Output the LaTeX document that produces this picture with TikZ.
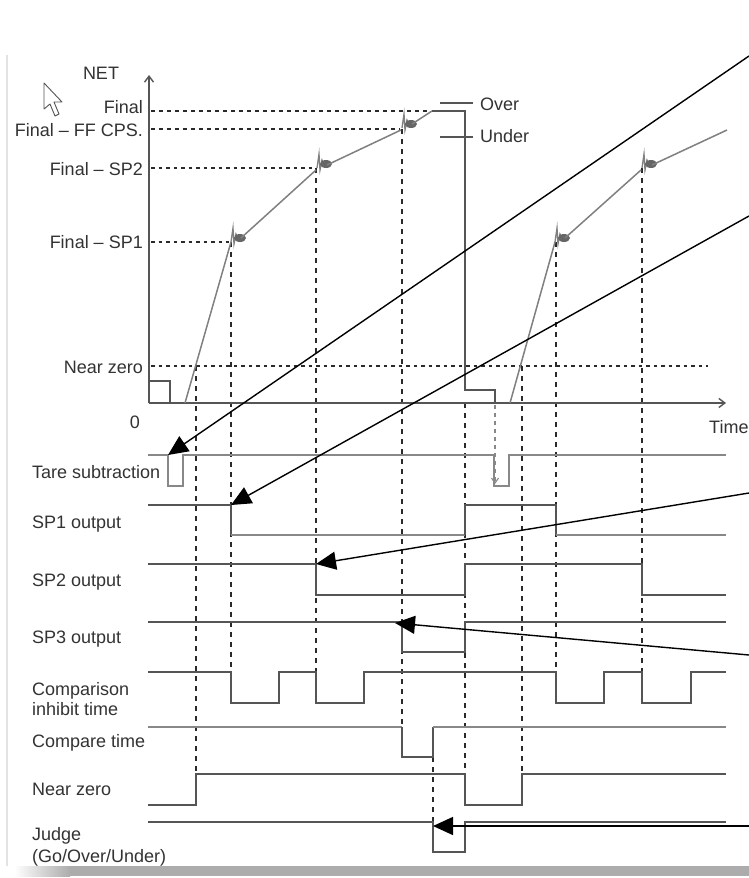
\documentclass[tikz,border=0pt]{standalone}
\usepackage{fontspec}
\setmainfont{Liberation Sans}
\usetikzlibrary{arrows.meta}
\definecolor{txtgray}{HTML}{333333}
\definecolor{sigc}{HTML}{555555}
\definecolor{sigl}{HTML}{888888}
\definecolor{curvec}{HTML}{808080}
\definecolor{dashc}{HTML}{2A2A2A}
\begin{document}
\begin{tikzpicture}[x=1pt,y=-1pt,
  lbl/.style={font=\fontsize{18}{21}\selectfont, text=txtgray, inner sep=0pt},
  sig/.style={draw=sigc, line width=1.5pt},
  sigthick/.style={draw=sigl, line width=2.3pt},
  curve/.style={draw=curvec, line width=1.5pt},
  lev/.style={draw=dashc, line width=1.1pt, dash pattern=on 4pt off 4pt},
  levb/.style={draw=dashc, line width=1.8pt, dash pattern=on 3.5pt off 4pt},
  vd/.style={draw=dashc, line width=1.1pt, dash pattern=on 5pt off 5pt},
  axis/.style={draw=sigc, line width=1.4pt, -{Straight Barb[length=6pt,width=9pt]}},
  callout/.style={draw=black, line width=1.4pt, -{Triangle[length=20pt,width=18pt]}},
  splash/.pic={\draw[curvec, line width=1.3pt] (0,0) -- (2,-14) -- (3,2) -- (5,-8) -- (8,-2);
               \fill[sigc!90] (9,-4) ellipse [x radius=6, y radius=4];}
]
% canvas
\fill[white] (0,0) rectangle (749,878);
\useasboundingbox (0,0) rectangle (749,878);
% frame
\draw[gray!22, line width=1.5pt] (7,55) -- (7,866);
\shade[left color=white, right color=gray!65] (14,866) rectangle (70,876);
\fill[gray!65] (70,866) rectangle (749,876);

% cursor
\draw[sigc, fill=white, line width=0.9pt, line join=round]
  (44,83) -- (44,109) -- (50,104) -- (55,116) -- (59,114) -- (54,102) -- (62,102) -- cycle;

% level lines
\draw[lev] (151,111) -- (430,111);
\draw[lev] (151,129) -- (400,129);
\draw[levb] (151,168) -- (316,168);
\draw[levb] (151,242) -- (229,242);
\draw[levb] (151,366) -- (708,366);

% vertical dashed guides
\draw[vd] (196,366) -- (196,774);
\draw[vd] (231,242) -- (231,672);
\draw[vd] (316,168) -- (316,672);
\draw[vd] (402,129) -- (402,727);
\draw[vd] (465,403) -- (465,774);
\draw[vd] (433,757) -- (433,822);
\draw[vd] (522,366) -- (522,774);
\draw[vd] (556,242) -- (556,672);
\draw[vd] (642,168) -- (642,672);
\draw[vd, dash pattern=on 4pt off 4pt, draw=sigl, -{Straight Barb[length=5pt,width=7pt]}] (495,405) -- (495,484);

% axes
\coordinate (origin) at (149,403);
\coordinate (ytop) at (149,75);
\coordinate (xend) at (726,403);
\draw[axis] (origin) -- (ytop);
\draw[axis] (origin) -- (xend);

% tare boxes & weighing curve
\draw[sig] (149,381) -- (170,381) -- (170,403);
\draw[curve] (185,403) -- (231,242);
\pic at (231,242) {splash};
\draw[curve] (241,238) -- (316,170);
\pic at (317,168) {splash};
\draw[curve] (327,165) -- (401,130);
\pic at (402,128) {splash};
\draw[curve] (412,124) -- (432,111);
\draw[sig] (432,111) -- (465,111) -- (465,390) -- (495,390) -- (495,403);
\draw[curve] (510,403) -- (555,242);
\pic at (555,242) {splash};
\draw[curve] (565,238) -- (641,170);
\pic at (642,168) {splash};
\draw[curve] (652,165) -- (727,130);
\draw[sig] (440,103) -- (473,103);
\draw[sig] (440,137) -- (473,137);

% axis labels
\node[lbl, anchor=base] (net) at (101,79) {NET};
\node[lbl, anchor=base east] (lfinal) at (143,113) {Final};
\node[lbl, anchor=base east] (lff) at (143,136) {Final – FF CPS.};
\node[lbl, anchor=base east] (lsp2) at (143,175) {Final – SP2};
\node[lbl, anchor=base east] (lsp1) at (143,248) {Final – SP1};
\node[lbl, anchor=base east] (lnz) at (143,373) {Near zero};
\node[lbl, anchor=base] (zero) at (135,428) {0};
\node[lbl, anchor=base west] (time) at (709,433) {Time};
\node[lbl, anchor=base west] (over) at (480,110) {Over};
\node[lbl, anchor=base west] (under) at (480,142) {Under};

% signal labels
\node[lbl, anchor=base west] (ltare) at (32,478) {Tare subtraction};
\node[lbl, anchor=base west] (lsp1o) at (32,528) {SP1 output};
\node[lbl, anchor=base west] (lsp2o) at (32,586) {SP2 output};
\node[lbl, anchor=base west] (lsp3o) at (32,643) {SP3 output};
\node[lbl, anchor=base west] (lcomp1) at (32,695) {Comparison};
\node[lbl, anchor=base west] (lcomp2) at (32,715) {inhibit time};
\node[lbl, anchor=base west] (lct) at (32,747) {Compare time};
\node[lbl, anchor=base west] (lnzs) at (32,795) {Near zero};
\node[lbl, anchor=base west] (ljudge1) at (32,840) {Judge};
\node[lbl, anchor=base west] (ljudge2) at (32,862) {(Go/Over/Under)};

% signals
\draw[sigthick] (148,455) -- (168,455) -- (168,486) -- (183,486) -- (183,455) -- (494,455) -- (494,486) -- (509,486) -- (509,455) -- (726,455);
\draw[sig] (148,505) -- (231,505) -- (231,535);
\draw[sigthick] (231,535) -- (465,535);
\draw[sig] (465,535) -- (465,505) -- (556,505) -- (556,535);
\draw[sigthick] (556,535) -- (726,535);
\draw[sig] (148,564) -- (316,564) -- (316,595) -- (465,595) -- (465,564) -- (642,564) -- (642,595) -- (726,595);
\draw[sig] (148,622) -- (402,622) -- (402,652) -- (465,652) -- (465,622) -- (726,622);
\draw[sig] (148,672) -- (231,672) -- (231,703) -- (279,703) -- (279,672) -- (316,672) -- (316,703) -- (364,703) -- (364,672) -- (556,672) -- (556,703) -- (604,703) -- (604,672) -- (642,672) -- (642,703) -- (691,703) -- (691,672) -- (726,672);
\draw[sigthick] (148,727) -- (402,727);
\draw[sig] (402,727) -- (402,757) -- (433,757) -- (433,727);
\draw[sigthick] (433,727) -- (726,727);
\draw[sig] (148,805) -- (196,805) -- (196,774) -- (465,774) -- (465,805) -- (522,805) -- (522,774) -- (726,774);
\draw[sig] (148,822) -- (433,822) -- (433,852) -- (465,852) -- (465,822) -- (726,822);

% callout arrows
\coordinate (c1s) at (749,56);  \coordinate (c1e) at (168,455);
\coordinate (c2s) at (749,216); \coordinate (c2e) at (231,505);
\coordinate (c3s) at (749,493); \coordinate (c3e) at (316,564);
\coordinate (c4s) at (749,655); \coordinate (c4e) at (395,623);
\coordinate (c5s) at (749,826); \coordinate (c5e) at (433,826);
\draw[callout] (c1s) -- (c1e);
\draw[callout] (c2s) -- (c2e);
\draw[callout] (c3s) -- (c3e);
\draw[callout] (c4s) -- (c4e);
\draw[callout] (c5s) -- (c5e);
\end{tikzpicture}
\end{document}
